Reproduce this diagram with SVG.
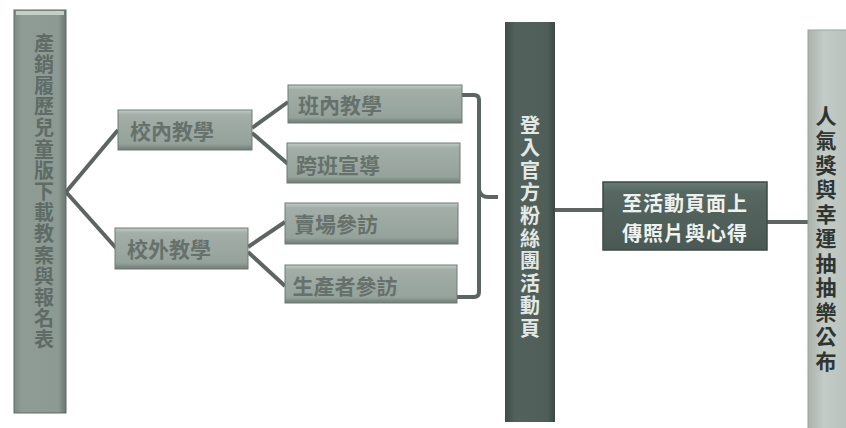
<svg xmlns="http://www.w3.org/2000/svg" width="846" height="428" viewBox="0 0 846 428">
<defs>
<linearGradient id="gBox" x1="0" y1="0" x2="0" y2="1">
<stop offset="0" stop-color="#c4ccc7"/>
<stop offset="0.12" stop-color="#a3aea8"/>
<stop offset="0.85" stop-color="#95a19b"/>
<stop offset="1" stop-color="#6e7a74"/>
</linearGradient>
<linearGradient id="gLeft" x1="0" y1="0" x2="1" y2="0">
<stop offset="0" stop-color="#7d8a83"/>
<stop offset="0.15" stop-color="#8f9c95"/>
<stop offset="0.85" stop-color="#8d9a93"/>
<stop offset="1" stop-color="#6a766f"/>
</linearGradient>
<linearGradient id="gMid" x1="0" y1="0" x2="1" y2="0">
<stop offset="0" stop-color="#3f4d48"/>
<stop offset="0.2" stop-color="#52615b"/>
<stop offset="0.85" stop-color="#4f5e58"/>
<stop offset="1" stop-color="#3a4743"/>
</linearGradient>
<linearGradient id="gDark" x1="0" y1="0" x2="0" y2="1">
<stop offset="0" stop-color="#6a7a74"/>
<stop offset="0.15" stop-color="#566660"/>
<stop offset="1" stop-color="#4a5954"/>
</linearGradient>
<linearGradient id="gRight" x1="0" y1="0" x2="1" y2="0">
<stop offset="0" stop-color="#a9b3ad"/>
<stop offset="0.4" stop-color="#c3cbc6"/>
<stop offset="1" stop-color="#b9c2bd"/>
</linearGradient>
</defs>
<style>
.line{fill:none;stroke:#5c6561;stroke-width:4;stroke-linejoin:round}
.box{fill:url(#gBox);stroke:#6f7a74;stroke-width:1}
.t{font-family:"Noto Sans CJK TC","Noto Sans CJK SC",sans-serif;font-weight:bold;text-anchor:middle;dominant-baseline:central}
.v{font-family:"Noto Sans CJK TC","Noto Sans CJK SC",sans-serif;font-weight:bold;text-anchor:middle;writing-mode:vertical-rl;text-orientation:upright}
.tb{fill:#66716b;font-size:21px}
.tl{fill:#5f6b66;font-size:20px;letter-spacing:1.2px}
.tm{fill:#e3e8e5;font-size:20px;letter-spacing:2.6px}
.tr{fill:#2f3532;font-size:21px;letter-spacing:3.5px}
.td{fill:#eef2ef;font-size:20px;letter-spacing:1px}
</style>
<rect width="846" height="428" fill="#ffffff"/>
<g id="connectors">
<path class="line" d="M66 192 L118 130"/>
<path class="line" d="M66 192 L116 248"/>
<path class="line" d="M252 128 L288 102"/>
<path class="line" d="M252 133 L288 164"/>
<path class="line" d="M248 247 L285 222"/>
<path class="line" d="M248 252 L285 286"/>
<path class="line" d="M462 95 L474 95 Q479 95 479 100 L479 292 Q479 297 474 297 L457 297"/>
<path class="line" d="M479 190 Q481 197 488 197 L498 197"/>
<path class="line" d="M555 210 L603 210"/>
<path class="line" d="M767 222 L808 222"/>
</g>
<g id="n-left">
<rect x="14" y="10" width="52" height="403" fill="url(#gLeft)" stroke="#5f6a64" stroke-width="1"/>
<rect x="16" y="11" width="48" height="4" fill="#c6cec9"/>
<text class="v tl" x="44" y="192">產銷履歷兒童版下載教案與報名表</text>
</g>
<g id="n-school-in">
<rect class="box" x="118" y="110" width="134" height="40"/>
<text class="t tb" x="172" y="130">校內教學</text>
</g>
<g id="n-school-out">
<rect class="box" x="115" y="228" width="133" height="41"/>
<text class="t tb" x="169" y="248">校外教學</text>
</g>
<g id="n-class-in">
<rect class="box" x="288" y="85" width="174" height="38"/>
<text class="t tb" x="340" y="104">班內教學</text>
</g>
<g id="n-cross">
<rect class="box" x="287" y="143" width="173" height="40"/>
<text class="t tb" x="338" y="164">跨班宣導</text>
</g>
<g id="n-market">
<rect class="box" x="285" y="203" width="173" height="41"/>
<text class="t tb" x="336" y="223">賣場參訪</text>
</g>
<g id="n-producer">
<rect class="box" x="285" y="265" width="172" height="38"/>
<text class="t tb" x="345" y="285">生產者參訪</text>
</g>
<g id="n-login">
<rect x="505" y="22" width="50" height="400" fill="url(#gMid)"/>
<text class="v tm" x="530" y="228">登入官方粉絲團活動頁</text>
</g>
<g id="n-upload">
<rect x="603" y="182" width="164" height="68" fill="url(#gDark)" stroke="#3d4a45" stroke-width="1.5"/>
<text class="t td" x="685" y="202">至活動頁面上</text>
<text class="t td" x="685" y="232">傳照片與心得</text>
</g>
<g id="n-result">
<rect x="808" y="30" width="40" height="400" fill="url(#gRight)" stroke="#9aa39e" stroke-width="1"/>
<text class="v tr" x="826" y="240">人氣獎與幸運抽抽樂公布</text>
</g>
</svg>
